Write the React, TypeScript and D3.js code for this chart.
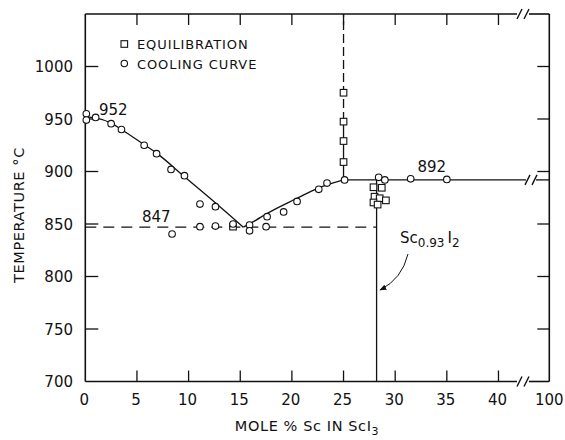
import React from 'react';
import * as d3 from 'd3';

const W = 565;
const H = 440;

// axis ticks
const yTicks = [700, 750, 800, 850, 900, 950, 1000];
const xTicks = [0, 5, 10, 15, 20, 25, 30, 35, 40];
const xEndLabel = '100';

// data: [mole % Sc, temperature °C]
const coolingCurve: [number, number][] = [
  [0.1, 955], [0.1, 949], [1.0, 951.5], [2.5, 945.5], [3.5, 940], [5.7, 925],
  [6.9, 917], [8.3, 902], [9.6, 896], [11.1, 869], [12.6, 866.5], [8.4, 840.5],
  [11.1, 847.5], [12.6, 848], [14.3, 850], [15.9, 849], [15.9, 843.5], [17.6, 857],
  [17.5, 847.5], [19.2, 861.5], [20.5, 871.5], [22.6, 883], [23.4, 889], [25.1, 892],
  [28.4, 894.5], [29.0, 892], [31.5, 893], [35.0, 892.5],
];
const equilibration: [number, number][] = [
  [25, 975], [25, 947.5], [25, 929], [25, 909], [14.3, 847.5],
  [27.9, 885], [28.7, 884.5], [28.0, 876], [28.5, 874.5], [27.9, 870.5],
  [29.1, 872.5], [28.3, 868.5],
];
const liquidusLeft: [number, number][] = [
  [0, 952], [1, 951], [2.5, 946], [3.5, 940], [5.7, 925.5], [6.9, 917.5],
  [9.6, 895], [12.5, 871], [15.3, 847],
];
const liquidusRight: [number, number][] = [
  [15.3, 847], [16.5, 853.5], [17.5, 859.5], [20.5, 874.5], [22.5, 884], [25, 892],
];
const eutecticT = 847;
const eutecticEnd = 28.2;
const peritecticT = 892;
const compoundX = 28.2;
const scI3X = 25;
const scI3SolidTop = 948;

export default function App() {
  const x = d3.scaleLinear().domain([0, 44.92]).range([85.3, 549.3]);
  const y = d3.scaleLinear().domain([700, 1050]).range([381.5, 14]);
  const [x0, x1] = x.range();
  const [yb, yt] = y.range();
  const axisBreak = 523;
  const lineBreak = 531;

  const smooth = d3
    .line<[number, number]>()
    .x((d) => x(d[0]))
    .y((d) => y(d[1]))
    .curve(d3.curveMonotoneX);

  const tickFont = { fontFamily: 'DejaVu Sans', fontSize: 15, fill: '#111' };
  const stroke = '#111';

  const slashes = (cx: number, cy: number) => (
    <g stroke={stroke} strokeWidth={1.4}>
      <line x1={cx - 6} y1={cy + 5} x2={cx - 1} y2={cy - 5} />
      <line x1={cx + 1} y1={cy + 5} x2={cx + 6} y2={cy - 5} />
    </g>
  );

  return (
    <svg width={W} height={H} style={{ position: 'absolute', left: 0, top: 0, background: '#fff' }}>
      <defs>
        <marker id="arr" viewBox="0 0 10 10" refX="9" refY="5" markerWidth="7" markerHeight="7" orient="auto">
          <path d="M0,1 L10,5 L0,9 Z" fill={stroke} />
        </marker>
      </defs>
      <rect x={0} y={0} width={W} height={H} fill="#fff" />

      {/* frame */}
      <g stroke={stroke} strokeWidth={1.6} fill="none">
        <line x1={x0} y1={yt} x2={x0} y2={yb} />
        <line x1={x1} y1={yt} x2={x1} y2={yb} />
        <line x1={x0} y1={yt} x2={axisBreak - 6} y2={yt} />
        <line x1={axisBreak + 6} y1={yt} x2={x1} y2={yt} />
        <line x1={x0} y1={yb} x2={axisBreak - 6} y2={yb} />
        <line x1={axisBreak + 6} y1={yb} x2={x1} y2={yb} />
      </g>
      {slashes(axisBreak, yt)}
      {slashes(axisBreak, yb)}

      {/* ticks */}
      <g stroke={stroke} strokeWidth={1.3}>
        {yTicks.slice(1).map((t) => (
          <g key={'yt' + t}>
            <line x1={x0} x2={x0 + 13} y1={y(t)} y2={y(t)} />
            <line x1={x1} x2={x1 - 12} y1={y(t)} y2={y(t)} />
          </g>
        ))}
        {xTicks.slice(1).map((t) => (
          <g key={'xt' + t}>
            <line x1={x(t)} x2={x(t)} y1={yt} y2={yt + 11} />
            <line x1={x(t)} x2={x(t)} y1={yb} y2={yb - 11} />
          </g>
        ))}
      </g>

      {/* tick labels */}
      {yTicks.map((t) => (
        <text key={'yl' + t} x={73} y={y(t) + 5.5} textAnchor="end" {...tickFont}>
          {t}
        </text>
      ))}
      {xTicks.map((t) => (
        <text key={'xl' + t} x={x(t) - 1} y={405} textAnchor="middle" {...tickFont}>
          {t}
        </text>
      ))}
      <text x={x1} y={405} textAnchor="middle" {...tickFont}>
        {xEndLabel}
      </text>

      {/* axis titles */}
      <text x={307} y={431} textAnchor="middle" fontFamily="DejaVu Sans" fontSize={14.5} letterSpacing={0.6} fill="#111">
        MOLE % Sc IN ScI<tspan fontSize={11} dy={3.5}>3</tspan>
      </text>
      <text
        transform="translate(24,215) rotate(-90)"
        textAnchor="middle"
        fontFamily="DejaVu Sans"
        fontSize={14.5}
        letterSpacing={0.6}
        fill="#111"
      >
        TEMPERATURE °C
      </text>

      {/* lines */}
      <g fill="none" stroke={stroke} strokeWidth={1.3}>
        <path d={smooth(liquidusLeft) || ''} />
        <path d={smooth(liquidusRight) || ''} />
        <line x1={x(0)} x2={x(eutecticEnd)} y1={y(eutecticT)} y2={y(eutecticT)} strokeDasharray="11 7" />
        <line x1={x(scI3X)} x2={lineBreak - 5} y1={y(peritecticT)} y2={y(peritecticT)} />
        <line x1={lineBreak + 5} x2={x1} y1={y(peritecticT)} y2={y(peritecticT)} />
        <line x1={x(scI3X)} x2={x(scI3X)} y1={y(peritecticT)} y2={y(scI3SolidTop)} />
        <line x1={x(scI3X)} x2={x(scI3X)} y1={y(scI3SolidTop)} y2={yt} strokeDasharray="9 4" />
        <line x1={x(compoundX)} x2={x(compoundX)} y1={y(peritecticT)} y2={yb} />
      </g>
      {slashes(lineBreak, y(peritecticT))}

      {/* markers */}
      <g fill="#fff" stroke={stroke} strokeWidth={1.1}>
        {equilibration.map((d, i) => (
          <rect key={'eq' + i} x={x(d[0]) - 3.3} y={y(d[1]) - 3.3} width={6.6} height={6.6} />
        ))}
        {coolingCurve.map((d, i) => (
          <circle key={'cc' + i} cx={x(d[0])} cy={y(d[1])} r={3.3} />
        ))}
      </g>

      {/* value labels */}
      <text x={99} y={115} {...tickFont}>952</text>
      <text x={142} y={221.5} {...tickFont}>847</text>
      <text x={417.5} y={172} {...tickFont}>892</text>

      {/* compound annotation */}
      <text x={400} y={243} fontFamily="DejaVu Sans" fontSize={15} fill="#111">
        Sc<tspan fontSize={12} dy={3.5}>0.93</tspan>
        <tspan fontSize={15} dy={-3.5} dx={3}>I</tspan>
        <tspan fontSize={12} dy={3.5}>2</tspan>
      </text>
      <path d="M408,254 Q402,279 380,290" fill="none" stroke={stroke} strokeWidth={1} markerEnd="url(#arr)" />

      {/* legend */}
      <rect x={121} y={40.7} width={6.6} height={6.6} fill="#fff" stroke={stroke} strokeWidth={1.1} />
      <circle cx={124.3} cy={63.5} r={3.2} fill="#fff" stroke={stroke} strokeWidth={1.1} />
      <text x={137} y={48.5} fontFamily="DejaVu Sans" fontSize={13} letterSpacing={0.9} fill="#111">
        EQUILIBRATION
      </text>
      <text x={137} y={69} fontFamily="DejaVu Sans" fontSize={13} letterSpacing={0.9} fill="#111">
        COOLING CURVE
      </text>
    </svg>
  );
}
